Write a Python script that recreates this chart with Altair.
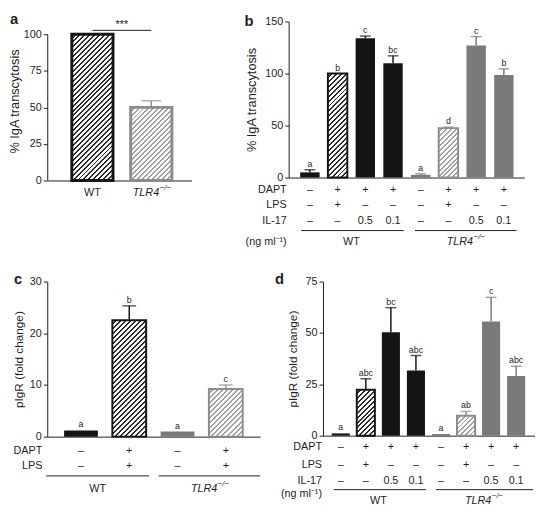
import math
import altair as alt
import pandas as pd

FONT = "Liberation Sans"
INK = "#1e1e1e"
BLACK = "#141414"
GRAY = "#7a7a7a"
GRAY_LINE = "#8c8c8c"

# ---------------- data ----------------
a_cats = ["WT", "TLR4"]
a_values = [100, 50]
a_upper = [100, 54.5]
a_kinds = ["hatchK", "hatchG"]

b_cats = ["WT_ctrl", "WT_LPS", "WT_IL17_05", "WT_IL17_01",
          "KO_ctrl", "KO_LPS", "KO_IL17_05", "KO_IL17_01"]
b_values = [5.0, 100, 134, 110, 2.6, 47.5, 127, 98.5]
b_upper = [7.5, 100, 136, 117, 3.6, 48.5, 135.5, 104.5]
b_letters = ["a", "b", "c", "bc", "a", "d", "c", "b"]
b_kinds = ["solidK", "hatchK", "solidK", "solidK", "solidG", "hatchG", "solidG", "solidG"]

c_cats = ["WT_ctrl", "WT_LPS", "KO_ctrl", "KO_LPS"]
c_values = [1.2, 22.5, 1.0, 9.2]
c_upper = [1.2, 25.3, 1.0, 10.0]
c_letters = ["a", "b", "a", "c"]
c_kinds = ["solidK", "hatchK", "solidG", "hatchG"]

d_cats = b_cats
d_values = [1.1, 22.3, 50.3, 31.7, 0.8, 9.7, 55.6, 29.0]
d_upper = [1.1, 27.7, 62.3, 39.0, 0.8, 11.8, 67.3, 33.8]
d_letters = ["a", "abc", "bc", "abc", "a", "ab", "c", "abc"]
d_kinds = b_kinds

dapt8 = ["–", "+", "+", "+", "–", "+", "+", "+"]
lps8 = ["–", "+", "–", "–", "–", "+", "–", "–"]
il17_8 = ["–", "–", "0.5", "0.1", "–", "–", "0.5", "0.1"]
dapt4 = ["–", "+", "–", "+"]
lps4 = ["–", "+", "–", "+"]

# ---------------- styles ----------------
FILL = {"solidK": BLACK, "solidG": GRAY, "hatchK": "white", "hatchG": "white"}
ECOL = {"solidK": BLACK, "solidG": GRAY, "hatchK": BLACK, "hatchG": GRAY_LINE}
STRIPE = {"hatchK": "#2a2a2a", "hatchG": "#a0a0a0"}


def band_layout(n, W, pI, pO, al):
    step = W / max(1, n - pI + 2 * pO)
    start = (W - step * (n - pI)) * al
    bw = step * (1 - pI)
    return [start + i * step for i in range(n)], bw


def hatch_fill(w, h, color, period=3.6, frac=0.4):
    w = max(w, 1.0)
    h = max(h, 1.0)
    k = (w + h) / (w * w + h * h)
    n = max(1, round((w + h) / (math.sqrt(2) * period)))
    stops = []
    for i in range(n):
        o0 = i / n
        o1 = (i + 1 - frac) / n
        o2 = (i + 1) / n
        stops += [{"offset": o0, "color": "white"}, {"offset": o1, "color": "white"},
                  {"offset": o1, "color": color}, {"offset": o2, "color": color}]
    return {"gradient": "linear", "x1": 0, "y1": 0, "x2": w * k, "y2": h * k, "stops": stops}


def txt(s, x, y, align="center", baseline="middle", size=11, weight="normal",
        style="normal", color=INK):
    return alt.Chart(pd.DataFrame({"t": [s]})).mark_text(
        align=align, baseline=baseline, fontSize=size, fontWeight=weight,
        fontStyle=style, color=color, font=FONT
    ).encode(x=alt.value(x), y=alt.value(y), text="t:N")


def rule(x1, x2, y):
    return alt.Chart(pd.DataFrame({"z": [0]})).mark_rule(color=INK, strokeWidth=1).encode(
        x=alt.value(x1), x2=alt.value(x2), y=alt.value(y))


def tlr4_label(cx, y):
    return [txt("TLR4", cx + 8, y, align="right", style="italic"),
            txt("−/−", cx + 8.5, y - 5, align="left", size=8, style="italic")]


def panel(cats, values, upper, kinds, letters, W, H, ymax, yticks, ytitle,
          pI, pO, al, cap, stroke_w, title_pad, title_size, domain_top=None):
    starts, bw = band_layout(len(cats), W, pI, pO, al)
    df = pd.DataFrame({
        "cat": cats, "value": values, "upper": upper,
        "top": [max(v, u) for v, u in zip(values, upper)],
        "fill": [FILL[k] for k in kinds], "ecol": [ECOL[k] for k in kinds],
        "letter": letters if letters else [""] * len(cats),
    })
    xs = alt.Scale(domain=cats, paddingInner=pI, paddingOuter=pO, align=al)
    ysc = alt.Scale(domain=[0, ymax], nice=False, zero=True)
    xax = alt.Axis(labels=False, ticks=False, title=None, domain=True)
    yax = alt.Axis(values=yticks, title=ytitle, titlePadding=title_pad,
                   titleFontSize=title_size, domain=domain_top is None)
    X = alt.X("cat:N", scale=xs, axis=xax)

    def Y(f):
        return alt.Y(f, type="quantitative", scale=ysc, axis=yax)

    layers = [alt.Chart(df).mark_bar(strokeWidth=0).encode(
        x=X, y=Y("value"), fill=alt.Fill("fill:N", scale=None))]
    if domain_top is not None:
        layers.append(alt.Chart(pd.DataFrame({"lo": [0], "hi": [domain_top]})).mark_rule(
            color=INK, strokeWidth=1).encode(x=alt.value(0.5), y=Y("lo"), y2="hi:Q"))
    for i, k in enumerate(kinds):
        if k.startswith("hatch"):
            h = values[i] / ymax * H
            g = hatch_fill(bw, h, STRIPE[k])
            layers.append(alt.Chart(df.iloc[[i]]).mark_bar(
                fill=g, stroke=ECOL[k], strokeWidth=stroke_w).encode(x=X, y=Y("value")))
    err = df[df["upper"] > df["value"]]
    if len(err):
        layers.append(alt.Chart(err).mark_rule(strokeWidth=1.5).encode(
            x=X, y=Y("value"), y2="upper:Q", color=alt.Color("ecol:N", scale=None)))
        layers.append(alt.Chart(err).mark_tick(thickness=1.5, size=cap).encode(
            x=X, y=Y("upper"), color=alt.Color("ecol:N", scale=None)))
    if letters:
        layers.append(alt.Chart(df).mark_text(
            baseline="alphabetic", dy=-3, fontSize=9, color=INK, font=FONT).encode(
            x=X, y=Y("top"), text="letter:N"))
    centers = [s + bw / 2 for s in starts]
    return layers, starts, bw, centers, X


def row(cats, X, vals, y):
    return alt.Chart(pd.DataFrame({"cat": cats, "t": vals})).mark_text(
        fontSize=11, baseline="middle", color=INK, font=FONT).encode(
        x=X, y=alt.value(y), text="t:N")


# ---------------- panel a ----------------
WA, HA0, EXTRA = 147, 149, 13
HA = HA0 + EXTRA
la, st, bw, cx, X = panel(a_cats, a_values, a_upper, a_kinds, None, WA, HA,
                          100 * HA / HA0, [0, 25, 50, 75, 100], "% IgA transcytosis",
                          0.3, 0.375, 0.556, 20, 3, 2, 13, domain_top=100)
la += [txt("a", -38, 3, align="left", baseline="alphabetic", size=15, weight="bold"),
       rule(cx[0], cx[1], EXTRA - 4),
       txt("***", (cx[0] + cx[1]) / 2, EXTRA - 9, size=11),
       txt("WT", cx[0], HA + 13)]
la += tlr4_label(cx[1], HA + 13)
pa = alt.layer(*la).properties(width=WA, height=HA)

# ---------------- panel b ----------------
WB, HB = 240, 159
lb, st, bw, cx, X = panel(b_cats, b_values, b_upper, b_kinds, b_letters, WB, HB, 150,
                          [0, 50, 100, 150], "% IgA transcytosis",
                          0.3, 0.40, 0.52, 11, 2, 6, 13)
lb += [txt("b", -45, 4.5, align="left", baseline="alphabetic", size=15, weight="bold"),
       row(b_cats, X, dapt8, HB + 13), row(b_cats, X, lps8, HB + 28),
       row(b_cats, X, il17_8, HB + 44),
       txt("DAPT", -2, HB + 13, align="right"), txt("LPS", -2, HB + 28, align="right"),
       txt("IL-17", -2, HB + 44, align="right"), txt("(ng ml⁻¹)", -2, HB + 66, align="right"),
       rule(st[0] + 1, st[3] + bw + 1, HB + 54), rule(st[4] + 4, st[7] + bw + 3, HB + 54),
       txt("WT", (st[0] + st[3] + bw) / 2, HB + 66)]
lb += tlr4_label((st[4] + st[7] + bw) / 2 + 3, HB + 66)
pb = alt.layer(*lb).properties(width=WB, height=HB)

# ---------------- panel c ----------------
WC, HC = 217, 158
lc, st, bw, cx, X = panel(c_cats, c_values, c_upper, c_kinds, c_letters, WC, HC, 30,
                          [0, 10, 20, 30], "pIgR (fold change)",
                          0.3, 0.356, 0.49, 14, 2, 4, 12)
lc += [txt("c", -34, 2, align="left", baseline="alphabetic", size=15, weight="bold"),
       row(c_cats, X, dapt4, HC + 15), row(c_cats, X, lps4, HC + 30),
       txt("DAPT", -5, HC + 15, align="right"), txt("LPS", -5, HC + 30, align="right"),
       rule(-1, st[1] + bw + 3, HC + 40), rule(st[2] - 2, WC, HC + 40),
       txt("WT", (st[1] + bw + 2) / 2, HC + 53)]
lc += tlr4_label((st[2] - 2 + WC) / 2, HC + 53)
pc = alt.layer(*lc).properties(width=WC, height=HC)

# ---------------- panel d ----------------
WD, HD = 216, 157
ld, st, bw, cx, X = panel(d_cats, d_values, d_upper, d_kinds, d_letters, WD, HD, 75,
                          [0, 25, 50, 75], "pIgR (fold change)",
                          0.278, 0.37, 0.47, 11, 2, 6, 12)
ld += [txt("d", -49, 2, align="left", baseline="alphabetic", size=15, weight="bold"),
       row(d_cats, X, dapt8, HD + 12), row(d_cats, X, lps8, HD + 30),
       row(d_cats, X, il17_8, HD + 46),
       txt("DAPT", -1, HD + 12, align="right"), txt("LPS", -1, HD + 30, align="right"),
       txt("IL-17", -1, HD + 46, align="right"), txt("(ng ml⁻¹)", -1, HD + 60, align="right"),
       rule(st[0] + 2, st[3] + bw + 1, HD + 55), rule(st[4] + 4, min(WD, st[7] + bw + 8), HD + 55),
       txt("WT", (st[0] + st[3] + bw) / 2, HD + 67)]
ld += tlr4_label((st[4] + st[7] + bw) / 2 + 5, HD + 67)
pd_ = alt.layer(*ld).properties(width=WD, height=HD)

top = alt.hconcat(pa, pb, spacing=54)
bottom = alt.hconcat(pc, pd_, spacing=14)

chart = alt.vconcat(top, bottom, spacing=25).properties(padding=0).configure(
    font=FONT
).configure_view(stroke=None).configure_axis(
    labelFont=FONT, titleFont=FONT, labelFontSize=11, titleFontSize=11,
    titleFontWeight="normal", labelColor=INK, titleColor=INK,
    domainColor=INK, tickColor=INK, domainWidth=1, tickWidth=1,
    grid=False, tickSize=4, labelPadding=2
)

chart.save("out.html", embed_options={"renderer": "svg", "actions": False})
